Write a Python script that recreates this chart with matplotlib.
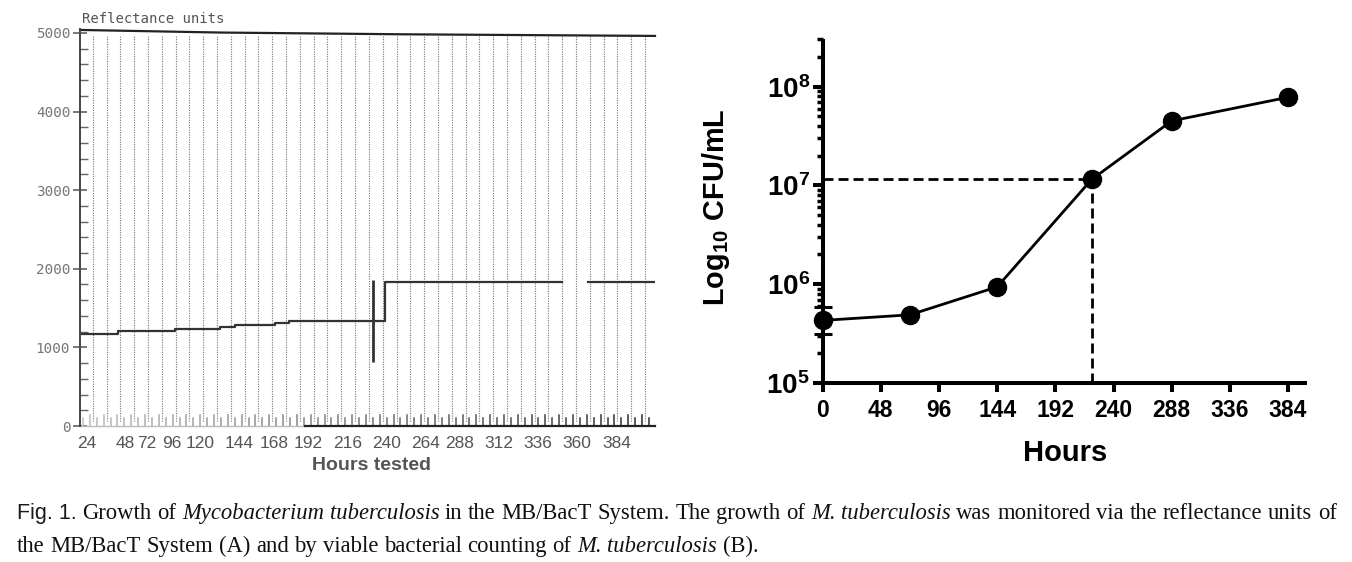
import numpy as np
import matplotlib
matplotlib.use('Agg')
import matplotlib.pyplot as plt
from matplotlib.ticker import FixedLocator, NullFormatter, LogLocator

plt.rcParams['mathtext.fontset'] = 'custom'
plt.rcParams['mathtext.rm'] = 'Liberation Sans'
plt.rcParams['mathtext.bf'] = 'Liberation Sans:bold'

# ---- panel A: MB/BacT reflectance printout ----
refl_hours = [19.5, 45.3, 84.0, 114.5, 124.7, 151.8, 161.4, 226.5, 346.7, 364.3, 409.8]
refl_units = [1170, 1212, 1234, 1255, 1280, 1315, 1340, 1828, np.nan, 1828, 1828]
top_hours = [19.5, 114.5, 236.7, 409.8]
top_units = [5038, 5005, 4983, 4962]
spike_hour = 218.4
spike_lo, spike_hi = 818, 1857
a_labels = [24, 48, 72, 96, 120, 144, 168, 192, 216, 240, 264, 288, 312, 336, 360, 384]
a_label_at = [24, 50.0, 64.7, 81.7, 100.9, 127.4, 151.2, 174.2, 201.4, 227.9,
              254.3, 277.4, 303.9, 330.4, 356.9, 384]

# ---- panel B: viable counts ----
hours_b = [0, 72, 144, 222, 288, 384]
cfu_b = [4.3e5, 4.9e5, 9.4e5, 1.15e7, 4.5e7, 7.8e7]
err_lo = 3.1e5
err_hi = 5.9e5
b_ticks = [0, 48, 96, 144, 192, 240, 288, 336, 384]

W, H = 1352, 562
fig = plt.figure(figsize=(W / 100, H / 100), dpi=100)

def frac(x0, y_top, x1, y_bot):
    return [x0 / W, 1 - y_bot / H, (x1 - x0) / W, (y_bot - y_top) / H]

# Panel A
ax = fig.add_axes(frac(80, 29, 655, 426))
ax.set_xlim(19.5, 409.8)
ax.set_ylim(0, 5050)
for s in ['top', 'right', 'bottom']:
    ax.spines[s].set_visible(False)
ax.spines['left'].set_color('#444')
ax.spines['left'].set_linewidth(1.4)

# dotted chart-paper grid and bottom tick comb
grid_x = np.arange(28.2, 409, 9.37)
ax.vlines(grid_x, 60, 4960, colors='#777', linestyles=(0, (1, 1.2)), lw=0.8)
comb_x = np.arange(21.5, 409.8, 4.685)
shade = [str(round(0.75 - 0.6 * (h - 20) / 390, 2)) for h in comb_x]
comb_h = [0.028 if i % 2 else 0.02 for i in range(len(comb_x))]
for h, c, tl in zip(comb_x, shade, comb_h):
    ax.plot([h, h], [0, tl], color=c, lw=1.1, transform=ax.get_xaxis_transform(), clip_on=False)
ax.plot([19.5, 172], [0, 0], color='#bbb', lw=1.0, transform=ax.get_xaxis_transform(), clip_on=False)
ax.plot([172, 409.8], [0, 0], color='#222', lw=1.6, transform=ax.get_xaxis_transform(), clip_on=False)

ax.plot(top_hours, top_units, color='#222', lw=1.6, clip_on=False)
ax.step(refl_hours, refl_units, where='post', color='#333', lw=1.6)
ax.vlines([spike_hour], [spike_lo], [spike_hi], colors='#333', lw=2.0)

ax.yaxis.set_major_locator(FixedLocator([0, 1000, 2000, 3000, 4000, 5000]))
ax.yaxis.set_minor_locator(FixedLocator(np.arange(0, 5001, 200)))
ax.tick_params(axis='y', which='major', direction='inout', length=10, width=1.1,
               color='#555', pad=2, labelsize=10.3, labelcolor='#777')
ax.tick_params(axis='y', which='minor', direction='in', length=6, width=1.0, color='#666')
for t in ax.get_yticklabels():
    t.set_family('DejaVu Sans Mono')
ax.xaxis.set_major_locator(FixedLocator(a_label_at))
ax.set_xticklabels([str(v) for v in a_labels])
ax.tick_params(axis='x', length=0, pad=7, labelsize=12.5, labelcolor='#555')
for t in ax.get_xticklabels():
    t.set_family('Liberation Sans')

fig.text(82 / W, 1 - 19 / H, 'Reflectance units', family='DejaVu Sans Mono',
         fontsize=10, color='#555', ha='left', va='center')
fig.text(372 / W, 1 - 465 / H, 'Hours tested', family='Liberation Sans',
         fontweight='bold', fontsize=14, color='#555', ha='center', va='center')

# Panel B
bx = fig.add_axes(frac(813, 39.5, 1307.4, 383))
bx.set_yscale('log')
bx.set_xlim(-8, 400)
bx.set_ylim(1e5, 3e8)
bx.spines['top'].set_visible(False)
bx.spines['right'].set_visible(False)
bx.spines['left'].set_position(('data', 0))
for s in ['left', 'bottom']:
    bx.spines[s].set_linewidth(2.9)
    bx.spines[s].set_capstyle('butt')

bx.plot([0, hours_b[3]], [cfu_b[3], cfu_b[3]], color='black', lw=2.0, ls=(0, (3.6, 1.8)))
bx.plot([hours_b[3], hours_b[3]], [1e5, cfu_b[3]], color='black', lw=2.0, ls=(0, (3.6, 1.8)))
bx.errorbar([hours_b[0]], [cfu_b[0]], yerr=[[cfu_b[0] - err_lo], [err_hi - cfu_b[0]]],
            fmt='none', ecolor='black', elinewidth=2.2, capsize=6.5, capthick=2.2, clip_on=False)
bx.plot(hours_b, cfu_b, color='black', lw=2.0, marker='o', markersize=13, clip_on=False, zorder=5)

bx.xaxis.set_major_locator(FixedLocator(b_ticks))
bx.set_xticklabels([str(v) for v in b_ticks])
bx.yaxis.set_major_locator(FixedLocator([1e5, 1e6, 1e7, 1e8]))
bx.set_yticklabels([r'$\mathbf{10^{%d}}$' % e for e in [5, 6, 7, 8]])
bx.yaxis.set_minor_locator(LogLocator(base=10, subs=np.arange(2, 10), numticks=20))
bx.yaxis.set_minor_formatter(NullFormatter())
bx.tick_params(axis='x', length=6.5, width=2.9, pad=5, labelsize=16.5)
bx.tick_params(axis='y', which='major', length=7.2, width=2.9, pad=2, labelsize=20)
bx.tick_params(axis='y', which='minor', length=4.3, width=2.5)
for t in bx.get_xticklabels():
    t.set_family('Liberation Sans')
    t.set_fontweight('bold')

fig.text(716 / W, 1 - 207 / H, r'$\mathbf{Log_{10}\ CFU/mL}$', rotation=90,
         fontsize=20.8, ha='center', va='center')
fig.text(1065 / W, 1 - 453 / H, 'Hours', family='Liberation Sans', fontweight='bold',
         fontsize=21, ha='center', va='center')

# Caption, drawn word by word so italics can sit inline
line1 = [('Fig. 1.', 'sans'), ('Growth', 'r'), ('of', 'r'), ('Mycobacterium', 'i'),
         ('tuberculosis', 'i'), ('in', 'r'), ('the', 'r'), ('MB/BacT', 'r'), ('System.', 'r'),
         ('The', 'r'), ('growth', 'r'), ('of', 'r'), ('M.', 'i'), ('tuberculosis', 'i'),
         ('was', 'r'), ('monitored', 'r'), ('via', 'r'), ('the', 'r'), ('reflectance', 'r'),
         ('units', 'r'), ('of', 'r')]
line2 = [('the', 'r'), ('MB/BacT', 'r'), ('System', 'r'), ('(A)', 'r'), ('and', 'r'),
         ('by', 'r'), ('viable', 'r'), ('bacterial', 'r'), ('counting', 'r'), ('of', 'r'),
         ('M.', 'i'), ('tuberculosis', 'i'), ('(B).', 'r')]

renderer = fig.canvas.get_renderer()

def style(kind, size):
    if kind == 'sans':
        return dict(family='Liberation Sans', fontsize=size * 0.95, color='#1a1a1a')
    return dict(family='Liberation Serif', fontsize=size, color='#111',
                style='italic' if kind == 'i' else 'normal')

def write_line(words, x, baseline, size):
    space = size * 100 / 72 * 0.25
    x0 = x
    for word, kind in words:
        t = fig.text(x / W, 1 - baseline / H, word, va='baseline', ha='left', **style(kind, size))
        x += t.get_window_extent(renderer).width + space
    return x - space - x0

# fit the first caption line to the printed width, then redraw
n_before = len(fig.texts)
natural = write_line(line1, 17, 519, 13)
for t in fig.texts[n_before:]:
    t.remove()
cap_size = 13 * 1318 / natural
write_line(line1, 17, 519, cap_size)
write_line(line2, 17, 552, cap_size)

fig.savefig('out.png', dpi=100)
